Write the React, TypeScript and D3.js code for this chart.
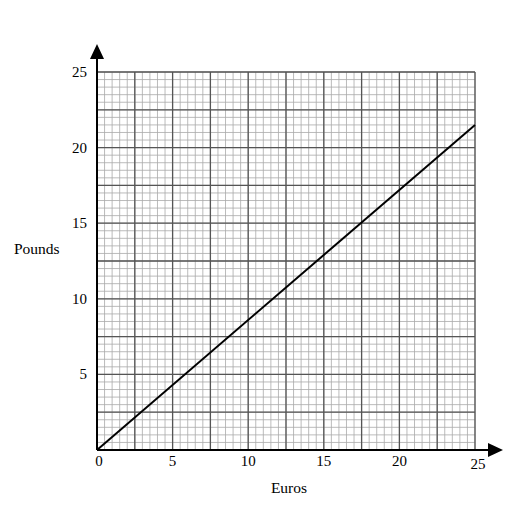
import React, { useEffect, useRef } from 'react';
import * as d3 from 'd3';

// conversion line: euros -> pounds
const lineEuros = [0, 25];
const linePounds = [0, 21.5];

const xTicks = [0, 5, 10, 15, 20, 25];
const yTicks = [5, 10, 15, 20, 25];

const App = () => {
  const ref = useRef<SVGSVGElement | null>(null);

  useEffect(() => {
    const svg = d3.select(ref.current);
    svg.selectAll('*').remove();

    const left = 97;
    const right = 475;
    const top = 72;
    const bottom = 450;
    const font = '"Liberation Serif", "Times New Roman", serif';

    const x = d3.scaleLinear().domain([0, 25]).range([left, right]);
    const y = d3.scaleLinear().domain([0, 25]).range([bottom, top]);

    const g = svg.append('g');

    // minor grid
    const minor = d3.range(0, 25.01, 0.5);
    g.selectAll('.vminor')
      .data(minor)
      .enter()
      .append('line')
      .attr('x1', d => x(d))
      .attr('x2', d => x(d))
      .attr('y1', y(0))
      .attr('y2', y(25))
      .attr('stroke', '#aaa')
      .attr('stroke-width', 0.8);
    g.selectAll('.hminor')
      .data(minor)
      .enter()
      .append('line')
      .attr('x1', x(0))
      .attr('x2', x(25))
      .attr('y1', d => y(d))
      .attr('y2', d => y(d))
      .attr('stroke', '#aaa')
      .attr('stroke-width', 0.8);

    // major grid every 2.5
    const major = d3.range(0, 25.01, 2.5);
    g.selectAll('.vmajor')
      .data(major)
      .enter()
      .append('line')
      .attr('x1', d => x(d))
      .attr('x2', d => x(d))
      .attr('y1', y(0))
      .attr('y2', y(25))
      .attr('stroke', '#555')
      .attr('stroke-width', 1.3);
    g.selectAll('.hmajor')
      .data(major)
      .enter()
      .append('line')
      .attr('x1', x(0))
      .attr('x2', x(25))
      .attr('y1', d => y(d))
      .attr('y2', d => y(d))
      .attr('stroke', '#555')
      .attr('stroke-width', 1.3);

    // axes with arrows
    g.append('line')
      .attr('x1', x(0)).attr('x2', 490)
      .attr('y1', y(0)).attr('y2', y(0))
      .attr('stroke', '#000').attr('stroke-width', 2);
    g.append('path')
      .attr('d', `M488,${y(0) - 7} L503,${y(0)} L488,${y(0) + 7} Z`)
      .attr('fill', '#000');
    g.append('line')
      .attr('x1', x(0)).attr('x2', x(0))
      .attr('y1', y(0)).attr('y2', 58)
      .attr('stroke', '#000').attr('stroke-width', 2);
    g.append('path')
      .attr('d', `M${x(0) - 7},59 L${x(0)},44 L${x(0) + 7},59 Z`)
      .attr('fill', '#000');

    // conversion line
    const pts = lineEuros.map((e, i) => [e, linePounds[i]] as [number, number]);
    g.append('path')
      .datum(pts)
      .attr('d', d3.line<[number, number]>().x(d => x(d[0])).y(d => y(d[1])))
      .attr('fill', 'none')
      .attr('stroke', '#000')
      .attr('stroke-width', 2);

    // tick labels
    g.selectAll('.xt')
      .data(xTicks)
      .enter()
      .append('text')
      .attr('x', d => x(d) + (d === 0 ? 2 : d === 25 ? 3 : 0))
      .attr('y', d => (d === 25 ? 469 : 466))
      .attr('text-anchor', 'middle')
      .attr('font-family', font)
      .attr('font-size', 15)
      .text(d => d);
    g.selectAll('.yt')
      .data(yTicks)
      .enter()
      .append('text')
      .attr('x', 87)
      .attr('y', d => y(d) + 5)
      .attr('text-anchor', 'end')
      .attr('font-family', font)
      .attr('font-size', 15)
      .text(d => d);

    // axis titles
    g.append('text')
      .attr('x', 14)
      .attr('y', 254)
      .attr('font-family', font)
      .attr('font-size', 15.5)
      .text('Pounds');
    g.append('text')
      .attr('x', 289)
      .attr('y', 493)
      .attr('text-anchor', 'middle')
      .attr('font-family', font)
      .attr('font-size', 15.5)
      .text('Euros');
  }, []);

  return (
    <svg
      ref={ref}
      width={529}
      height={529}
      style={{ position: 'absolute', left: 0, top: 0, background: '#fff' }}
    />
  );
};

export default App;
